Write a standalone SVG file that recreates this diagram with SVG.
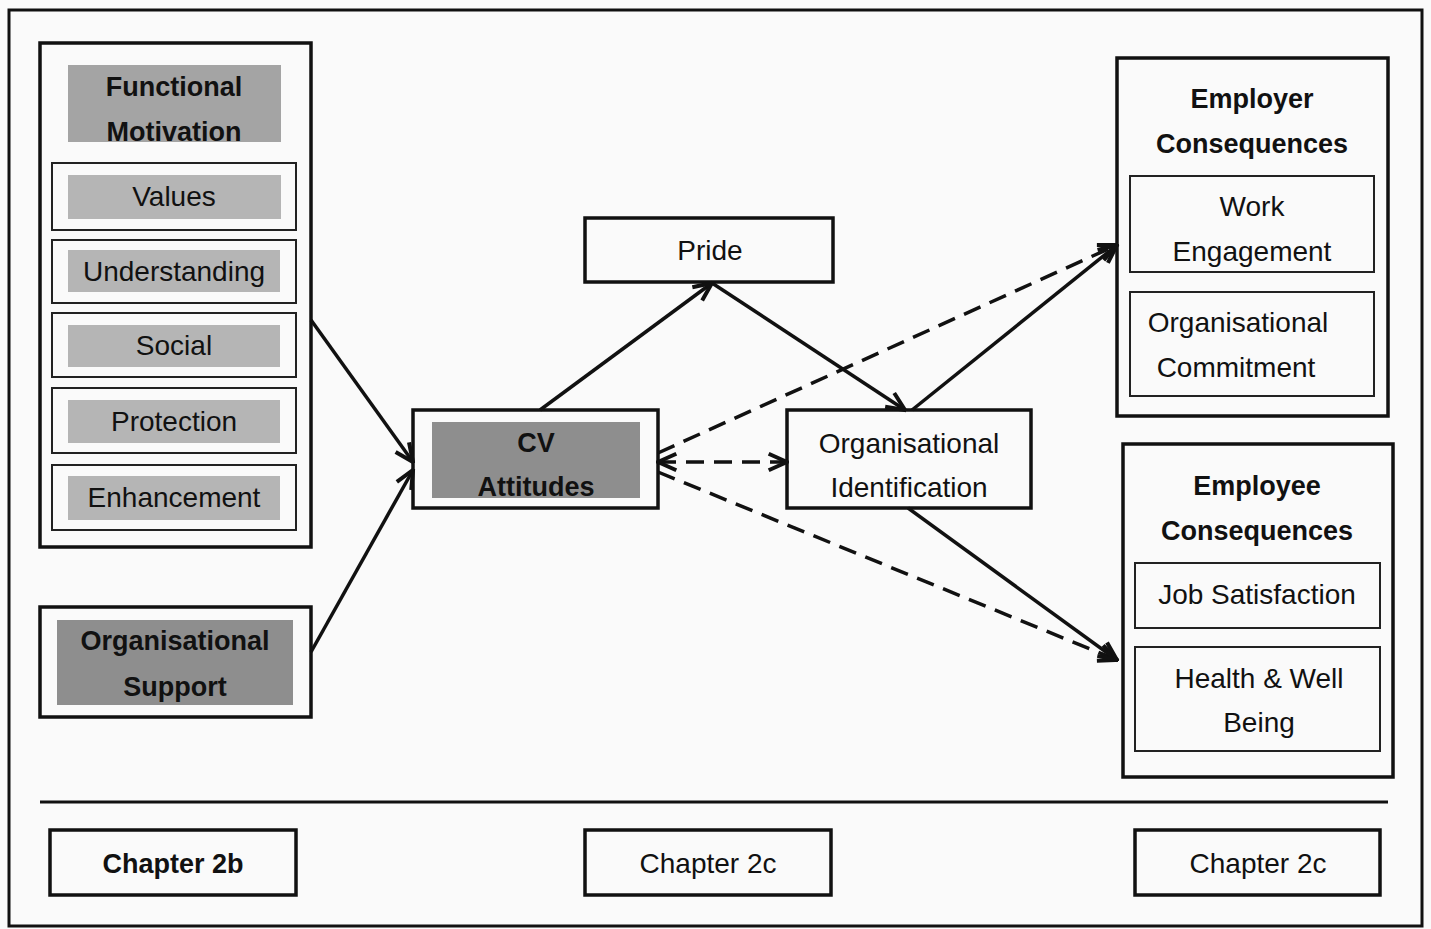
<svg xmlns="http://www.w3.org/2000/svg" width="1431" height="929" viewBox="0 0 1431 929">
<style>
.frame{fill:none;stroke:#111;stroke-width:3}
.box{fill:none;stroke:#111;stroke-width:3.5}
.sub{fill:none;stroke:#222;stroke-width:2}
.g1{fill:#a4a4a4}
.g2{fill:#b5b5b5}
.g3{fill:#8e8e8e}
.t{font-family:"Liberation Sans",Arial,sans-serif;font-size:28px;fill:#111;text-anchor:middle}
.b{font-family:"Liberation Sans",Arial,sans-serif;font-size:27px;font-weight:bold;fill:#111;text-anchor:middle}
.c{fill:none;stroke:#111;stroke-width:3.5}
.d{fill:none;stroke:#111;stroke-width:3.5;stroke-dasharray:18 10}
</style>
<defs>
<marker id="ah" viewBox="0 0 12 12" refX="11" refY="6" markerWidth="22" markerHeight="22" markerUnits="userSpaceOnUse" orient="auto-start-reverse">
<path d="M1,1.5 L11,6 L1,10.5" fill="none" stroke="#111" stroke-width="2.2"/>
</marker>
</defs>
<rect x="0" y="0" width="1431" height="929" fill="#fafafa"/>
<rect class="frame" x="9" y="10" width="1413" height="916"/>
<line x1="40" y1="802" x2="1388" y2="802" stroke="#111" stroke-width="3"/>

<g id="functional-motivation">
<rect class="box" x="40" y="43" width="271" height="504"/>
<rect class="g1" x="68" y="65" width="213" height="77"/>
<text class="b" x="174" y="96">Functional</text>
<text class="b" x="174" y="141">Motivation</text>
</g>
<g id="values">
<rect class="sub" x="52" y="163" width="244" height="67"/>
<rect class="g2" x="68" y="175" width="213" height="44"/>
<text class="t" x="174" y="206">Values</text>
</g>
<g id="understanding">
<rect class="sub" x="52" y="240" width="244" height="63"/>
<rect class="g2" x="68" y="250" width="212" height="42"/>
<text class="t" x="174" y="281">Understanding</text>
</g>
<g id="social">
<rect class="sub" x="52" y="313" width="244" height="64"/>
<rect class="g2" x="68" y="325" width="212" height="42"/>
<text class="t" x="174" y="355">Social</text>
</g>
<g id="protection">
<rect class="sub" x="52" y="388" width="244" height="65"/>
<rect class="g2" x="68" y="400" width="212" height="43"/>
<text class="t" x="174" y="431">Protection</text>
</g>
<g id="enhancement">
<rect class="sub" x="52" y="465" width="244" height="65"/>
<rect class="g2" x="68" y="476" width="212" height="44"/>
<text class="t" x="174" y="507">Enhancement</text>
</g>
<g id="organisational-support">
<rect class="box" x="40" y="607" width="271" height="110"/>
<rect class="g3" x="57" y="620" width="236" height="85"/>
<text class="b" x="175" y="650">Organisational</text>
<text class="b" x="175" y="696">Support</text>
</g>
<g id="pride">
<rect class="box" x="585" y="218" width="248" height="64"/>
<text class="t" x="710" y="260">Pride</text>
</g>
<g id="cv-attitudes">
<rect class="box" x="413" y="410" width="245" height="98"/>
<rect class="g3" x="432" y="422" width="208" height="76"/>
<text class="b" x="536" y="452">CV</text>
<text class="b" x="536" y="496">Attitudes</text>
</g>
<g id="organisational-identification">
<rect class="box" x="787" y="410" width="244" height="98"/>
<text class="t" x="909" y="453">Organisational</text>
<text class="t" x="909" y="497">Identification</text>
</g>
<g id="employer-consequences">
<rect class="box" x="1117" y="58" width="271" height="358"/>
<text class="b" x="1252" y="108">Employer</text>
<text class="b" x="1252" y="153">Consequences</text>
</g>
<g id="work-engagement">
<rect class="sub" x="1130" y="176" width="244" height="96"/>
<text class="t" x="1252" y="216">Work</text>
<text class="t" x="1252" y="261">Engagement</text>
</g>
<g id="organisational-commitment">
<rect class="sub" x="1130" y="292" width="244" height="104"/>
<text class="t" x="1238" y="332">Organisational</text>
<text class="t" x="1236" y="377">Commitment</text>
</g>
<g id="employee-consequences">
<rect class="box" x="1123" y="444" width="270" height="333"/>
<text class="b" x="1257" y="495">Employee</text>
<text class="b" x="1257" y="540">Consequences</text>
</g>
<g id="job-satisfaction">
<rect class="sub" x="1135" y="563" width="245" height="65"/>
<text class="t" x="1257" y="604">Job Satisfaction</text>
</g>
<g id="health-well-being">
<rect class="sub" x="1135" y="647" width="245" height="104"/>
<text class="t" x="1259" y="688">Health &amp; Well</text>
<text class="t" x="1259" y="732">Being</text>
</g>
<g id="chapter-2b">
<rect class="box" x="50" y="830" width="246" height="65"/>
<text class="b" x="173" y="873">Chapter 2b</text>
</g>
<g id="chapter-2c-mid">
<rect class="box" x="585" y="830" width="246" height="65"/>
<text class="t" x="708" y="873">Chapter 2c</text>
</g>
<g id="chapter-2c-right">
<rect class="box" x="1135" y="830" width="245" height="65"/>
<text class="t" x="1258" y="873">Chapter 2c</text>
</g>

<g id="connectors">
<line class="c" x1="311" y1="320" x2="413" y2="462" marker-end="url(#ah)"/>
<line class="c" x1="311" y1="652" x2="413" y2="470" marker-end="url(#ah)"/>
<line class="c" x1="540" y1="410" x2="712" y2="283" marker-end="url(#ah)"/>
<line class="c" x1="712" y1="283" x2="905" y2="410" marker-end="url(#ah)"/>
<line class="c" x1="912" y1="410" x2="1117" y2="245" marker-end="url(#ah)"/>
<line class="d" x1="658" y1="453" x2="1117" y2="245" marker-end="url(#ah)"/>
<line class="d" x1="658" y1="462" x2="787" y2="462" marker-start="url(#ah)" marker-end="url(#ah)"/>
<line class="d" x1="658" y1="472" x2="1117" y2="660" marker-end="url(#ah)"/>
<line class="c" x1="908" y1="508" x2="1117" y2="660" marker-end="url(#ah)"/>
</g>
</svg>
